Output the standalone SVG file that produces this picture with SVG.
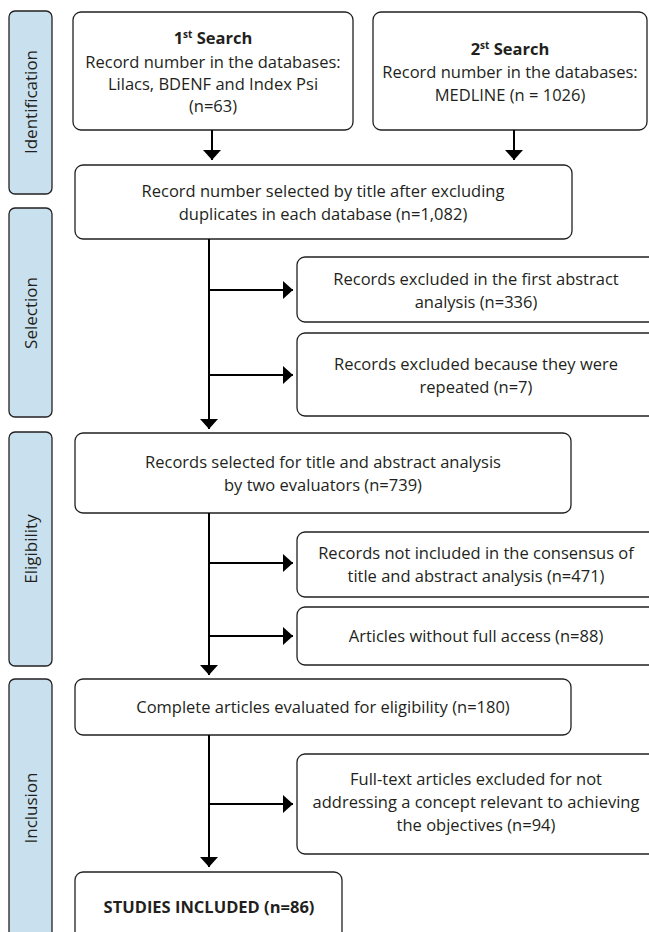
<svg xmlns="http://www.w3.org/2000/svg" width="649" height="932" viewBox="0 0 649 932">
<style>
.side{fill:#c9e1ef;stroke:#231f20;stroke-width:1.3}
.box{fill:#ffffff;stroke:#231f20;stroke-width:1.3}
text{font-family:"Open Sans","Liberation Sans",sans-serif;font-size:16.5px;fill:#231f20;text-anchor:middle}
.b{font-weight:bold}
.lab{font-size:17px}
.ln{fill:none;stroke:#000;stroke-width:2}
</style>
<defs>
<marker id="ah" markerWidth="10" markerHeight="18" refX="10" refY="9" orient="auto" markerUnits="userSpaceOnUse">
<path d="M0,0 L10,9 L0,18 Z" fill="#000"/>
</marker>
</defs>
<rect width="649" height="932" fill="#ffffff"/>
<g id="stage-identification">
<rect class="side" x="9" y="11" width="43" height="183" rx="6"/>
<text class="lab" transform="translate(37,102) rotate(-90)">Identification</text>
</g>
<g id="stage-selection">
<rect class="side" x="9" y="208" width="43" height="209" rx="6"/>
<text class="lab" transform="translate(37,313) rotate(-90)">Selection</text>
</g>
<g id="stage-eligibility">
<rect class="side" x="9" y="432" width="43" height="234" rx="6"/>
<text class="lab" transform="translate(37,549) rotate(-90)">Eligibility</text>
</g>
<g id="stage-inclusion">
<rect class="side" x="9" y="679" width="43" height="259" rx="6"/>
<text class="lab" transform="translate(37,808) rotate(-90)">Inclusion</text>
</g>
<g id="search1">
<rect class="box" x="73" y="12" width="280" height="118" rx="8"/>
<text x="213" y="44" class="b">1<tspan font-size="10" dy="-6">st</tspan><tspan dy="6"> Search</tspan></text>
<text x="213" y="68">Record number in the databases:</text>
<text x="213" y="90">Lilacs, BDENF and Index Psi</text>
<text x="213" y="112">(n=63)</text>
</g>
<g id="search2">
<rect class="box" x="373" y="12" width="274" height="118" rx="8"/>
<text x="510" y="55" class="b">2<tspan font-size="10" dy="-6">st</tspan><tspan dy="6"> Search</tspan></text>
<text x="510" y="78">Record number in the databases:</text>
<text x="510" y="101">MEDLINE (n = 1026)</text>
</g>
<g id="records-title">
<rect class="box" x="75" y="165" width="497" height="74" rx="8"/>
<text x="323" y="197">Record number selected by title after excluding</text>
<text x="323" y="220">duplicates in each database (n=1,082)</text>
</g>
<g id="excluded-abstract">
<rect class="box" x="297" y="257" width="360" height="65" rx="8"/>
<text x="476" y="285">Records excluded in the first abstract</text>
<text x="476" y="308">analysis (n=336)</text>
</g>
<g id="excluded-repeated">
<rect class="box" x="297" y="333" width="360" height="83" rx="8"/>
<text x="476" y="370">Records excluded because they were</text>
<text x="476" y="393">repeated (n=7)</text>
</g>
<g id="records-selected">
<rect class="box" x="75" y="433" width="496" height="80" rx="8"/>
<text x="323" y="468">Records selected for title and abstract analysis</text>
<text x="323" y="491">by two evaluators (n=739)</text>
</g>
<g id="not-consensus">
<rect class="box" x="297" y="532" width="360" height="65" rx="8"/>
<text x="476" y="559">Records not included in the consensus of</text>
<text x="476" y="582">title and abstract analysis (n=471)</text>
</g>
<g id="no-access">
<rect class="box" x="297" y="607" width="360" height="58" rx="8"/>
<text x="476" y="642">Articles without full access (n=88)</text>
</g>
<g id="complete-articles">
<rect class="box" x="75" y="679" width="496" height="56" rx="8"/>
<text x="323" y="713">Complete articles evaluated for eligibility (n=180)</text>
</g>
<g id="fulltext-excluded">
<rect class="box" x="297" y="754" width="360" height="100" rx="8"/>
<text x="476" y="785">Full-text articles excluded for not</text>
<text x="476" y="808">addressing a concept relevant to achieving</text>
<text x="476" y="831">the objectives (n=94)</text>
</g>
<g id="studies-included">
<rect class="box" x="75" y="872" width="267" height="70" rx="8"/>
<text x="209" y="913" class="b">STUDIES INCLUDED (n=86)</text>
</g>
<g id="connectors">
<path class="ln" d="M212,130 V160" marker-end="url(#ah)"/>
<path class="ln" d="M514,130 V160" marker-end="url(#ah)"/>
<path class="ln" d="M209,239 V429" marker-end="url(#ah)"/>
<path class="ln" d="M209,290 H293" marker-end="url(#ah)"/>
<path class="ln" d="M209,375 H293" marker-end="url(#ah)"/>
<path class="ln" d="M209,513 V675" marker-end="url(#ah)"/>
<path class="ln" d="M209,563 H293" marker-end="url(#ah)"/>
<path class="ln" d="M209,636 H293" marker-end="url(#ah)"/>
<path class="ln" d="M209,735 V867" marker-end="url(#ah)"/>
<path class="ln" d="M209,804 H293" marker-end="url(#ah)"/>
</g>
</svg>
